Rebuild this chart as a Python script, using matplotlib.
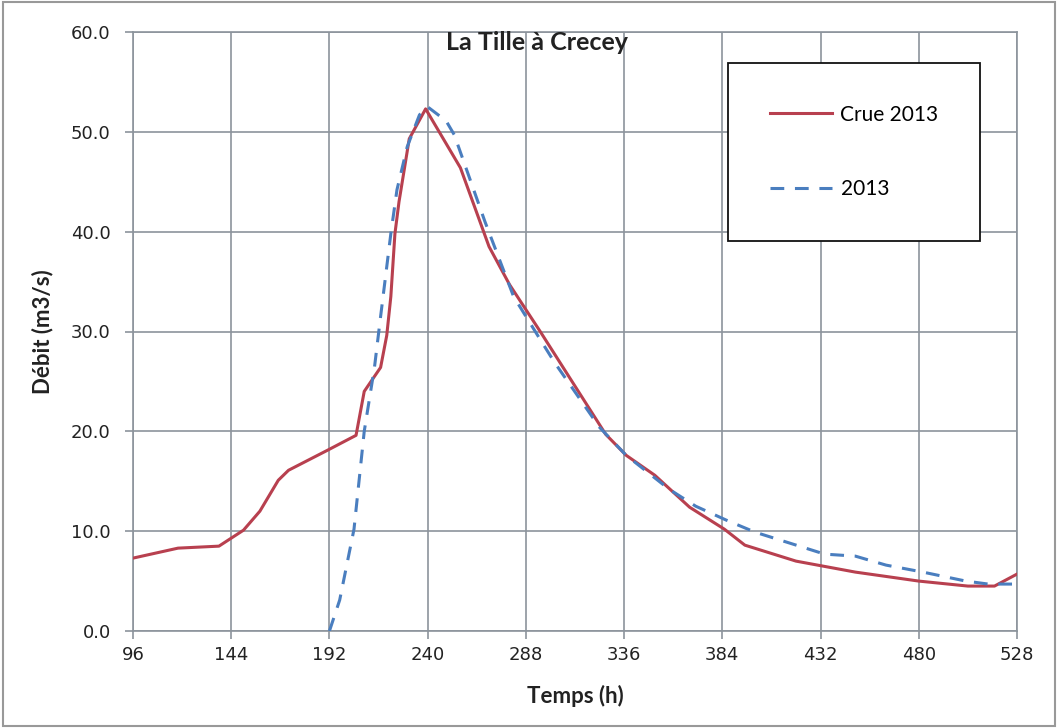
import matplotlib
matplotlib.use("Agg")
from matplotlib import pyplot as plt
from matplotlib.patches import Rectangle

# Crue 2013 (observed)
crue_t = [96, 118, 138, 150, 158, 167, 172, 191, 205, 209, 217, 220, 222, 224, 226, 231,
          239, 256, 270, 280, 295, 327, 337, 351, 368, 385, 395, 420, 449, 480, 504, 517, 528]
crue_q = [7.3, 8.3, 8.5, 10.1, 12.0, 15.1, 16.1, 18.1, 19.6, 24.0, 26.4, 29.6, 33.5, 39.8, 43.0, 49.3,
          52.3, 46.4, 38.5, 34.7, 30.0, 19.7, 17.6, 15.6, 12.4, 10.2, 8.6, 7.0, 5.9, 5.0, 4.5, 4.5, 5.7]

# 2013 (simulated)
sim_t = [192, 197, 204, 209, 214, 217, 222, 225, 230, 236, 240, 249, 253, 268, 282, 295,
         302, 324, 337, 358, 371, 386, 400, 434, 449, 464, 482, 503, 514, 527]
sim_q = [0.0, 3.1, 10.2, 20.0, 26.4, 31.5, 39.8, 44.2, 48.5, 51.7, 52.5, 51.1, 49.7, 41.0, 33.5, 29.2,
         26.9, 20.4, 17.6, 14.2, 12.5, 11.1, 9.9, 7.7, 7.5, 6.6, 5.9, 5.0, 4.7, 4.7]

xticks = list(range(96, 529, 48))
yticks = [0, 10, 20, 30, 40, 50, 60]

W, H = 1058, 728
fig = plt.figure(figsize=(W / 100, H / 100), dpi=100)
ax = fig.add_axes([133 / W, 1 - 631 / H, (1017 - 133) / W, (631 - 32) / H])

grid_col = "#8c949c"
ax.plot(crue_t, crue_q, color="#b8404f", lw=2.2, label="Crue 2013", zorder=3)
ax.plot(sim_t, sim_q, color="#4a7ebf", lw=2.2, dashes=(4.5, 3.5), label="2013", zorder=3)

ax.set_xlim(96, 528)
ax.set_ylim(0, 60)
ax.set_xticks(xticks)
ax.set_yticks(yticks)
ax.set_yticklabels(["%.1f" % v for v in yticks])
ax.grid(True, color=grid_col, lw=1.2)
ax.set_axisbelow(True)
for s in ax.spines.values():
    s.set_color(grid_col)
    s.set_linewidth(1.2)
ax.tick_params(direction="out", length=6, width=1.2, color=grid_col,
               labelsize=13, labelcolor="#222222")
ax.tick_params(axis="y", pad=10)
ax.tick_params(axis="x", pad=5)

lab_font = dict(family=["Lato", "DejaVu Sans"], weight="bold", size=16, color="#222222")
ax.set_ylabel("Débit (m3/s)", labelpad=13, **lab_font)
ax.set_xlabel("Temps (h)", labelpad=15, **lab_font)
fig.text(537 / W, 1 - 43 / H, "La Tille à Crecey", ha="center", va="center",
         family=["Lato", "DejaVu Sans"], weight="bold", size=18, color="#222222")

leg = ax.legend(loc="upper left", bbox_to_anchor=(728 / W, 1 - 63 / H),
                bbox_transform=fig.transFigure, borderaxespad=0, fancybox=False,
                framealpha=1, edgecolor="#111111", borderpad=2.0,
                labelspacing=2.6, handlelength=3.0, handletextpad=0.4,
                prop=dict(family=["Lato", "DejaVu Sans"], size=15))
leg.get_frame().set_linewidth(1.3)

fig.patches.append(Rectangle((0.003, 0.003), 0.994, 0.994, transform=fig.transFigure,
                             fill=False, edgecolor="#999999", lw=1.5))

fig.savefig("out.png", dpi=100)
